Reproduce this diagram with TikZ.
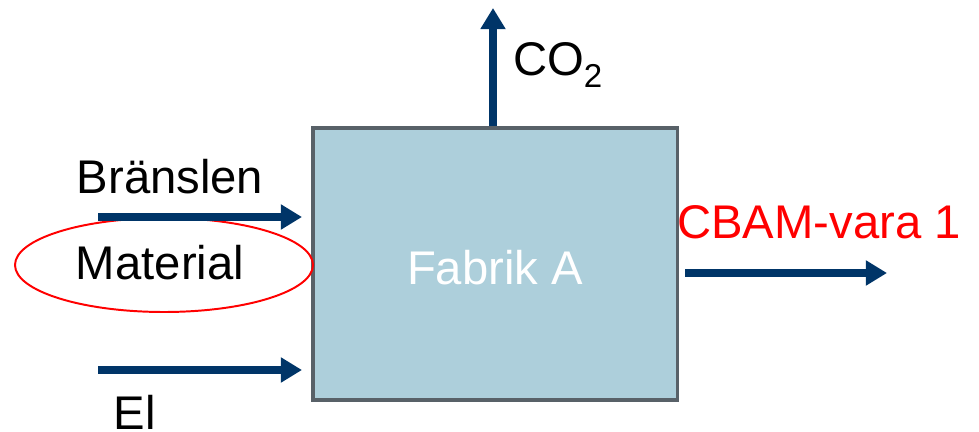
\documentclass[tikz,border=0pt]{standalone}
\usepackage{fontspec}
\setmainfont{Liberation Sans}
\usepackage{tikz}
\usetikzlibrary{arrows.meta,positioning}
\definecolor{flow}{RGB}{0,53,104}
\definecolor{boxfill}{RGB}{173,207,219}
\definecolor{boxline}{RGB}{88,97,104}
\tikzset{
	flowarrow/.style={draw=flow, line width=5pt, -{Triangle[length=15pt,width=17pt]}},
	lbl/.style={font=\fontsize{33.6}{40}\selectfont, inner sep=0pt}
}
\begin{document}
\begin{tikzpicture}[x=0.025cm, y=-0.025cm]
	\useasboundingbox (0,0) rectangle (979,432);
	\node[draw=boxline, line width=2.2pt, fill=boxfill, minimum width=9.1cm, minimum height=6.8cm] (fabrik) at (495,264) {};
	\node[lbl, text=white] (fabriktxt) at (495,268) {Fabrik A};
	\coordinate (co2top) at (493,8);
	\coordinate (brstart) at (98,217);
	\coordinate (brend) at (302,217);
	\coordinate (elstart) at (98,370);
	\coordinate (elend) at (302,370);
	\coordinate (utstart) at (685,273);
	\coordinate (utend) at (887,273);
	\node[lbl] (co2) at (558,65) {CO\textsubscript{2}};
	\node[lbl] (bransle) at (170,177) {Bränslen};
	\node[lbl] (material) at (160,263) {Material};
	\node[lbl] (el) at (135,412) {El};
	\node[lbl, text=red] (vara) at (819,222) {CBAM-vara 1};
	\draw[red, line width=1.4pt] (164,265) ellipse [x radius=149, y radius=47];
	\draw[flowarrow] (fabrik.north -| co2top) -- (co2top);
	\draw[flowarrow] (brstart) -- (brend);
	\draw[flowarrow] (elstart) -- (elend);
	\draw[flowarrow] (utstart) -- (utend);
\end{tikzpicture}
\end{document}
